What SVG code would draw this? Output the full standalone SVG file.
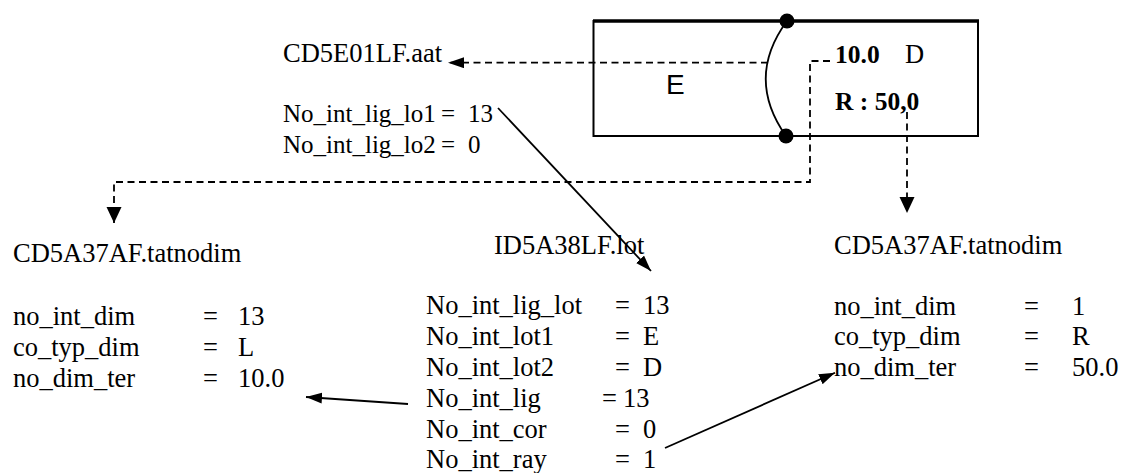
<svg xmlns="http://www.w3.org/2000/svg" width="1121" height="473" viewBox="0 0 1121 473">
<style>
text{font-family:"Liberation Serif","Times New Roman",serif;font-size:26.5px;fill:#000}
.b{font-weight:bold;font-size:25.5px}
.s{font-size:25px}
.sans{font-family:"Liberation Sans",Arial,sans-serif;font-size:28px}
.dash{fill:none;stroke:#000;stroke-width:1.8;stroke-dasharray:7 4.5}
.solid{fill:none;stroke:#000;stroke-width:1.8}
</style>
<defs>
<marker id="as" markerUnits="userSpaceOnUse" markerWidth="17" markerHeight="12" refX="16" refY="5.5" orient="auto"><path d="M0,0 L16,5.5 L0,11 z" fill="#000"/></marker>
<marker id="ab" markerUnits="userSpaceOnUse" markerWidth="17" markerHeight="16" refX="16" refY="7.5" orient="auto"><path d="M0,0 L16,7.5 L0,15 z" fill="#000"/></marker>
</defs>
<g id="section">
<rect x="593.5" y="21" width="384.5" height="115" fill="none" stroke="#000" stroke-width="2"/>
<line x1="593" y1="21" x2="979" y2="21" stroke="#000" stroke-width="3.5"/>
<path d="M787,21 Q745,78 786,136" fill="none" stroke="#000" stroke-width="1.8"/>
<circle cx="787" cy="21" r="7.5" fill="#000"/>
<circle cx="786" cy="136" r="7.5" fill="#000"/>
<text class="sans" x="666" y="94">E</text>
<text class="b" x="835" y="63">10.0</text>
<text x="905" y="63">D</text>
<text class="b" x="835" y="110">R : 50,0</text>
</g>
<g id="aat">
<text x="283" y="62">CD5E01LF.aat</text>
<text class="s" x="283" y="122">No_int_lig_lo1</text><text class="s" x="441" y="122">=</text><text class="s" x="468" y="122">13</text>
<text class="s" x="283" y="153">No_int_lig_lo2</text><text class="s" x="441" y="153">=</text><text class="s" x="468" y="153">0</text>
</g>
<g id="tatnodim-left">
<text x="13" y="262">CD5A37AF.tatnodim</text>
<text x="13" y="325">no_int_dim</text><text x="203" y="325">=</text><text x="238" y="325">13</text>
<text x="13" y="356">co_typ_dim</text><text x="203" y="356">=</text><text x="238" y="356">L</text>
<text x="13" y="386.5">no_dim_ter</text><text x="203" y="386.5">=</text><text x="238" y="386.5">10.0</text>
</g>
<g id="lot">
<text x="494" y="254">ID5A38LF.lot</text>
<text x="426" y="314">No_int_lig_lot</text><text x="615" y="314">=</text><text x="643" y="314">13</text>
<text x="426" y="345">No_int_lot1</text><text x="615" y="345">=</text><text x="643" y="345">E</text>
<text x="426" y="376">No_int_lot2</text><text x="615" y="376">=</text><text x="643" y="376">D</text>
<text x="426" y="407">No_int_lig</text><text x="602" y="407">=</text><text x="623" y="407">13</text>
<text x="426" y="437.5">No_int_cor</text><text x="615" y="437.5">=</text><text x="643" y="437.5">0</text>
<text x="426" y="468">No_int_ray</text><text x="615" y="468">=</text><text x="643" y="468">1</text>
</g>
<g id="tatnodim-right">
<text x="834" y="254">CD5A37AF.tatnodim</text>
<text x="834" y="314.5">no_int_dim</text><text x="1024" y="314.5">=</text><text x="1072" y="314.5">1</text>
<text x="834" y="345">co_typ_dim</text><text x="1024" y="345">=</text><text x="1072" y="345">R</text>
<text x="834" y="376">no_dim_ter</text><text x="1024" y="376">=</text><text x="1072" y="376">50.0</text>
</g>
<g id="connectors">
<path class="dash" d="M768,62.7 H448" marker-end="url(#as)"/>
<path class="dash" d="M830,61 H810 V182 H114 V223" marker-end="url(#ab)"/>
<path class="dash" d="M907,112 V213" marker-end="url(#ab)"/>
<path class="solid" d="M498,108 L651,271" marker-end="url(#as)"/>
<path class="solid" d="M408,404 L306,397" marker-end="url(#as)"/>
<path class="solid" d="M665,448 L835,372.7" marker-end="url(#as)"/>
</g>
</svg>
